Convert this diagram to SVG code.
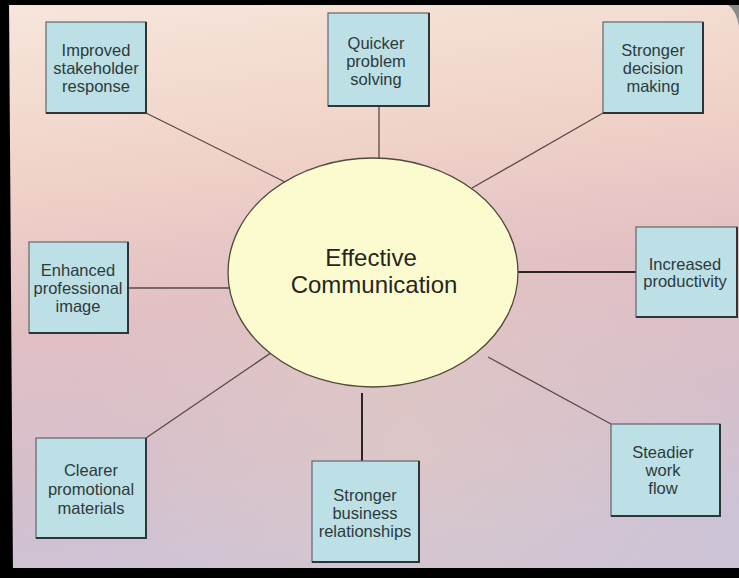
<svg xmlns="http://www.w3.org/2000/svg" width="739" height="578" viewBox="0 0 739 578">
<defs>
<linearGradient id="bg" x1="0" y1="0" x2="0.15" y2="1">
<stop offset="0" stop-color="#f7e6dc"/>
<stop offset="0.3" stop-color="#f0d3c8"/>
<stop offset="0.55" stop-color="#e2c0c4"/>
<stop offset="0.8" stop-color="#d6bfcb"/>
<stop offset="1" stop-color="#cdc3d6"/>
</linearGradient>
<radialGradient id="glow" cx="0.55" cy="0.75" r="0.45">
<stop offset="0" stop-color="#e2cbc4" stop-opacity="0.6"/>
<stop offset="1" stop-color="#e2cbc4" stop-opacity="0"/>
</radialGradient>
<style>
.box{fill:#bde0e6;stroke:#5f6769;stroke-width:1.2}
.sh{fill:none;stroke:#2f3436;stroke-width:2}
.bt{font-family:"Liberation Sans",Arial,sans-serif;font-size:16.5px;fill:#2d3a3c;text-anchor:middle}
.ct{font-family:"Liberation Sans",Arial,sans-serif;font-size:24px;fill:#262620;text-anchor:middle}
.cn{stroke:#5a4848;stroke-width:1.3;fill:none}
.cnd{stroke:#2a2626;stroke-width:2;fill:none}
</style>
</defs>
<rect x="0" y="0" width="739" height="578" fill="url(#bg)"/>
<rect x="0" y="0" width="739" height="578" fill="url(#glow)"/>
<path d="M728 5 Q736 10 739 26 L739 5 Z" fill="#8d8a8a"/>
<g id="frame" fill="#000">
<rect x="0" y="0" width="739" height="5"/>
<polygon points="0,0 9,0 13,578 0,578"/>
<rect x="0" y="568" width="739" height="10"/>
</g>
<g id="connectors">
<line class="cn" x1="146" y1="113" x2="285" y2="182"/>
<line class="cn" x1="379" y1="106" x2="379" y2="158"/>
<line class="cn" x1="603" y1="113" x2="472" y2="188"/>
<line class="cn" x1="128" y1="288" x2="229" y2="288"/>
<line class="cnd" x1="518" y1="272" x2="636" y2="272"/>
<line class="cn" x1="146" y1="438" x2="278" y2="348"/>
<line class="cnd" x1="362" y1="393" x2="362" y2="461"/>
<line class="cn" x1="611" y1="424" x2="488" y2="357"/>
</g>
<g id="center">
<ellipse cx="373" cy="272.5" rx="145" ry="114.5" fill="#fcfbd0" stroke="#4d4a3a" stroke-width="1.3"/>
<text class="ct" x="371" y="266">Effective</text>
<text class="ct" x="374" y="293">Communication</text>
</g>
<g id="improved">
<rect class="box" x="46" y="22" width="100" height="91"/>
<polyline class="sh" points="46,113 146,113 146,22"/>
<text class="bt" x="96" y="56">Improved</text>
<text class="bt" x="96" y="74">stakeholder</text>
<text class="bt" x="96" y="92">response</text>
</g>
<g id="quicker">
<rect class="box" x="328" y="13" width="101" height="93"/>
<polyline class="sh" points="328,106 429,106 429,13"/>
<text class="bt" x="376" y="49">Quicker</text>
<text class="bt" x="376" y="67">problem</text>
<text class="bt" x="376" y="85">solving</text>
</g>
<g id="decision">
<rect class="box" x="603" y="22" width="100" height="91"/>
<polyline class="sh" points="603,113 703,113 703,22"/>
<text class="bt" x="653" y="56">Stronger</text>
<text class="bt" x="653" y="74">decision</text>
<text class="bt" x="653" y="92">making</text>
</g>
<g id="enhanced">
<rect class="box" x="29" y="242" width="99" height="91"/>
<polyline class="sh" points="29,333 128,333 128,242"/>
<text class="bt" x="78" y="276">Enhanced</text>
<text class="bt" x="78" y="294">professional</text>
<text class="bt" x="78" y="312">image</text>
</g>
<g id="productivity">
<rect class="box" x="636" y="227" width="101" height="90"/>
<polyline class="sh" points="636,317 737,317 737,227"/>
<text class="bt" x="685" y="270">Increased</text>
<text class="bt" x="685" y="287">productivity</text>
</g>
<g id="promotional">
<rect class="box" x="36" y="438" width="110" height="100"/>
<polyline class="sh" points="36,538 146,538 146,438"/>
<text class="bt" x="91" y="476">Clearer</text>
<text class="bt" x="91" y="495">promotional</text>
<text class="bt" x="91" y="514">materials</text>
</g>
<g id="business">
<rect class="box" x="312" y="461" width="107" height="101"/>
<polyline class="sh" points="312,562 419,562 419,461"/>
<text class="bt" x="365" y="501">Stronger</text>
<text class="bt" x="365" y="519">business</text>
<text class="bt" x="365" y="537">relationships</text>
</g>
<g id="workflow">
<rect class="box" x="611" y="424" width="109" height="92"/>
<polyline class="sh" points="611,516 720,516 720,424"/>
<text class="bt" x="663" y="458">Steadier</text>
<text class="bt" x="663" y="476">work</text>
<text class="bt" x="663" y="494">flow</text>
</g>
</svg>
